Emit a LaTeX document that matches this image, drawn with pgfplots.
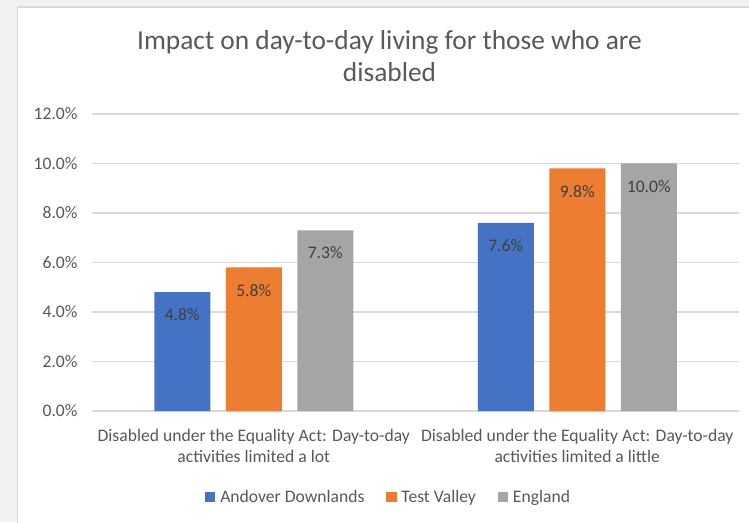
\documentclass[border=0pt]{standalone}
\usepackage{fontspec}
\setmainfont{Carlito}
\usepackage{pgfplots}
\pgfplotsset{compat=1.18}
\definecolor{cblue}{HTML}{4472C4}
\definecolor{corange}{HTML}{ED7D31}
\definecolor{cgray}{HTML}{A5A5A5}
\definecolor{ctext}{HTML}{595959}
\definecolor{clabel}{HTML}{404040}
\definecolor{cgrid}{HTML}{D9D9D9}
\definecolor{cbg}{HTML}{F2F2F2}
\newcommand{\lbl}{\fontsize{17.6}{21}\selectfont}
\begin{document}
\begin{tikzpicture}[x=1pt,y=1pt]
\useasboundingbox (0,0) rectangle (749,522);
\fill[cbg] (0,0) rectangle (749,522);
\fill[white] (17.5,0) rectangle (749,515);
\draw[cgrid, line width=1.5pt] (17.5,-1) -- (17.5,515) -- (750,515);
\node[anchor=base, text=ctext, font=\fontsize{27.4}{32}\selectfont] at (389.5,472) {Impact on day-to-day living for those who are};
\node[anchor=base, text=ctext, font=\fontsize{27.4}{32}\selectfont] at (389.5,440) {disabled};
\begin{axis}[
  at={(92pt,111pt)}, anchor=south west,
  scale only axis, width=647pt, height=297pt,
  /pgf/number format/assume math mode=true,
  ybar=15.5pt, bar width=56pt,
  xmin=-0.5, xmax=1.5, ymin=0, ymax=12,
  ytick={0,2,4,6,8,10,12},
  yticklabel={\pgfmathprintnumber[fixed,fixed zerofill,precision=1]{\tick}\%},
  xtick={0,1},
  xticklabels={Disabled under the Equality Act: Day-to-day\\activities limited a lot, Disabled under the Equality Act: Day-to-day\\activities limited a little},
  xticklabel style={align=center, font=\lbl, text=ctext, yshift=-15pt},
  yticklabel style={font=\lbl, text=ctext, xshift=-11pt},
  major tick length=0pt,
  axis line style={draw=none},
  ymajorgrids, grid style={cgrid, line width=1.3pt},
  nodes near coords={\pgfmathprintnumber[fixed,fixed zerofill,precision=1]{\pgfplotspointmeta}\%},
  nodes near coords style={anchor=north, font=\lbl, text=clabel, yshift=-13pt},
  legend columns=-1,
  legend style={at={(0.4585,-0.2896)}, anchor=center, draw=none, fill=none, font=\lbl, text=ctext,
    /tikz/every odd column/.append style={column sep=3pt},
    /tikz/every even column/.append style={column sep=20pt}},
]
\addplot[fill=cblue, draw=none, legend image code/.code={\fill[cblue] (0pt,-5pt) rectangle (10pt,5pt);}] coordinates {(0,4.8) (1,7.6)};
\addplot[fill=corange, draw=none, legend image code/.code={\fill[corange] (0pt,-5pt) rectangle (10pt,5pt);}] coordinates {(0,5.8) (1,9.8)};
\addplot[fill=cgray, draw=none, legend image code/.code={\fill[cgray] (0pt,-5pt) rectangle (10pt,5pt);}] coordinates {(0,7.3) (1,10.0)};
\legend{Andover Downlands, Test Valley, England}
\end{axis}
\end{tikzpicture}
\end{document}
